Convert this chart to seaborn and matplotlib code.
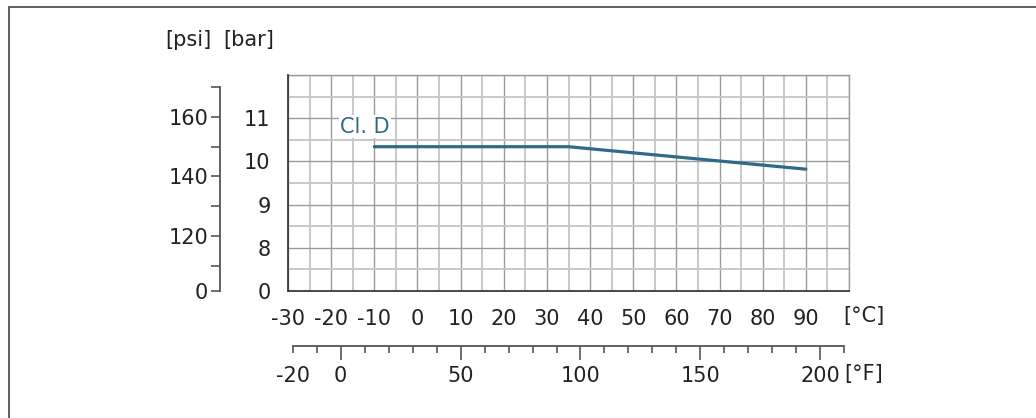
import numpy as np
import pandas as pd
import seaborn as sns
import matplotlib.pyplot as plt
from matplotlib.lines import Line2D

# Pressure-temperature rating, class D
temp_c = [-10, 35, 90]
pressure_bar = [10.34, 10.34, 9.82]
series_label = "Cl. D"

# Axis ticks (the bottom of the bar/psi axes is a broken axis labelled "0")
c_major = list(range(-30, 101, 10))
c_labels = ["-30", "-20", "-10", "0", "10", "20", "30", "40", "50", "60", "70", "80", "90", ""]
c_minor = list(range(-25, 100, 10))
bar_major = [7, 8, 9, 10, 11, 12]
bar_labels = ["0", "8", "9", "10", "11", ""]
bar_minor = [7.5, 8.5, 9.5, 10.5, 11.5]
psi_major = [120, 140, 160]
psi_labels = ["120", "140", "160"]
psi_minor = [110, 130, 150, 170]
f_major = [0, 50, 100, 150, 200]
f_labels = ["0", "50", "100", "150", "200"]
f_minor = [-20, -10, 10, 20, 30, 40, 60, 70, 80, 90, 110, 120, 130, 140, 160, 170, 180, 190, 210]
f_minor_labels = ["-20"] + [""] * 18

PSI_PER_BAR = 14.5038


def bar2psi(b):
    return np.asarray(b) * PSI_PER_BAR


def psi2bar(p):
    return np.asarray(p) / PSI_PER_BAR


def c2f(c):
    return np.asarray(c) * 9 / 5 + 32


def f2c(f):
    return (np.asarray(f) - 32) * 5 / 9


sns.set_style("white")
plt.rcParams["font.family"] = ["DejaVu Sans"]
FS = 15
plt.rcParams["font.size"] = FS

line_col = "#2f6a8a"
major_grid = "#9c9c9c"
minor_grid = "#c8c8c8"
axis_col = "#3a3a3a"
text_col = "#222222"

W, H = 1036, 418
fig = plt.figure(figsize=(W / 100, H / 100), dpi=100)
ax = fig.add_axes([288 / W, 1 - 291 / H, 561 / W, 216 / H])

df = pd.DataFrame({"temp": temp_c, "bar": pressure_bar})
sns.lineplot(data=df, x="temp", y="bar", ax=ax, color=line_col, lw=2.3, zorder=5)

ax.set_xlim(-30, 100)
ax.set_ylim(7, 12)
ax.set_xlabel("")
ax.set_ylabel("")

ax.set_xticks(c_major, labels=c_labels)
ax.set_xticks(c_minor, minor=True)
ax.set_yticks(bar_major, labels=bar_labels)
ax.set_yticks(bar_minor, minor=True)

ax.grid(which="major", color=major_grid, lw=1.0, zorder=0)
ax.grid(which="minor", color=minor_grid, lw=1.4, zorder=0)
ax.set_axisbelow(True)
ax.tick_params(axis="x", which="major", length=8.5, width=1.0, color=major_grid,
               pad=4.5, labelsize=FS, labelcolor=text_col)
ax.tick_params(axis="x", which="minor", length=4.3, width=1.4, color=minor_grid)
ax.tick_params(axis="y", which="major", length=8.5, width=1.0, color=major_grid,
               pad=4, labelsize=FS, labelcolor=text_col)
ax.tick_params(axis="y", which="minor", length=3.6, width=1.4, color=minor_grid)

for s in ["left", "bottom"]:
    ax.spines[s].set_color(axis_col)
    ax.spines[s].set_linewidth(1.3)
    ax.spines[s].set_zorder(3)
for s in ["top", "right"]:
    ax.spines[s].set_color(major_grid)
    ax.spines[s].set_linewidth(1.0)

ax.text(-12.2, 10.8, series_label, color=line_col, fontsize=FS, ha="center", va="center",
        zorder=4, bbox=dict(facecolor="white", edgecolor="none", pad=1.0))

# psi axis on the left
sec_y = ax.secondary_yaxis(-68 / 561, functions=(bar2psi, psi2bar))
bottom_psi = float(bar2psi(bar_major[0]))
sec_y.set_yticks([bottom_psi] + psi_major, labels=["0"] + psi_labels)
sec_y.set_yticks(psi_minor, minor=True)
sec_y.spines["left"].set_bounds(bottom_psi, psi_minor[-1])
sec_y.spines["left"].set_color("#555555")
sec_y.spines["left"].set_linewidth(1.3)
sec_y.tick_params(which="both", length=6.5, width=1.2, color="#555555", pad=2,
                  labelsize=FS, labelcolor=text_col)

# Fahrenheit axis below
sec_x = ax.secondary_xaxis(-55 / 216, functions=(c2f, f2c))
sec_x.set_xticks(f_major, labels=f_labels)
sec_x.set_xticks(f_minor, labels=f_minor_labels, minor=True)
sec_x.spines["bottom"].set_bounds(f_minor[0], f_minor[-1])
sec_x.spines["bottom"].set_color("#555555")
sec_x.spines["bottom"].set_linewidth(1.3)
sec_x.tick_params(which="major", length=10, width=1.2, color="#555555", pad=4.5,
                  labelsize=FS, labelcolor=text_col)
sec_x.tick_params(which="minor", length=5, width=1.2, color="#555555", pad=9.5,
                  labelsize=FS, labelcolor=text_col)

# unit labels
fig.text(188 / W, 1 - 40 / H, "[psi]", ha="center", va="center", fontsize=FS, color=text_col)
fig.text(249 / W, 1 - 40 / H, "[bar]", ha="center", va="center", fontsize=FS, color=text_col)
fig.text(864 / W, 1 - 316 / H, "[°C]", ha="center", va="center", fontsize=FS, color=text_col)
fig.text(864 / W, 1 - 374 / H, "[°F]", ha="center", va="center", fontsize=FS, color=text_col)

# frame (top and left edges)
fig.add_artist(Line2D([9 / W, 1], [1 - 7 / H, 1 - 7 / H], color="#555555", lw=1.3))
fig.add_artist(Line2D([9 / W, 9 / W], [1 - 7 / H, 0], color="#555555", lw=1.3))

fig.savefig("out.png", dpi=100)
